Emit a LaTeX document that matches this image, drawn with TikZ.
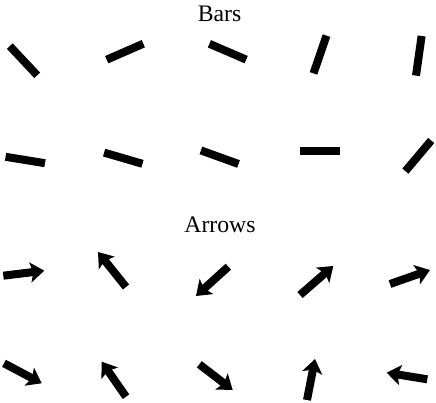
\documentclass[tikz,border=0pt]{standalone}
\usepackage{fontspec}
\setmainfont{Liberation Serif}
\usetikzlibrary{arrows.meta}
\begin{document}
\begin{tikzpicture}[x=1pt,y=-1pt,
  bar/.style={line width=8pt,line cap=butt,black},
  arr/.style={line width=8pt,line cap=butt,black,-{Stealth[length=14pt,width=20pt,inset=3pt]}},
  ttl/.style={anchor=base,inner sep=0pt,font=\fontsize{23.7}{28}\selectfont}]
\useasboundingbox (0,0) rectangle (436,402);
\node[ttl] (tbars) at (219.5,21) {Bars};
\node[ttl] (tarrows) at (220,232) {Arrows};
% bars row 1
\draw[bar] (9.8,46.1) -- (37.2,75.3);
\draw[bar] (106.7,59.7) -- (143.3,43.7);
\draw[bar] (209.4,43.8) -- (246.2,59.6);
\draw[bar] (313.5,73.4) -- (326.5,35.6);
\draw[bar] (416,75.6) -- (421.6,36);
% bars row 2
\draw[bar] (5.6,156.8) -- (45,163.2);
\draw[bar] (104.1,152.6) -- (142.5,163.8);
\draw[bar] (200.9,150.4) -- (238.5,164);
\draw[bar] (300,150.7) -- (340,150.7);
\draw[bar] (405.4,171.1) -- (431.2,140.5);
% arrows row 1
\draw[arr] (3.3,275.7) -- (44.3,270.7);
\draw[arr] (126,287) -- (98,252);
\draw[arr] (228.3,266.7) -- (196,296);
\draw[arr] (300,295) -- (333.3,266);
\draw[arr] (390,284) -- (430,270);
% arrows row 2
\draw[arr] (4,363.3) -- (41.7,383.3);
\draw[arr] (126,396.7) -- (101.7,361.7);
\draw[arr] (199.3,364.3) -- (232.7,390);
\draw[arr] (307,400) -- (315,359);
\draw[arr] (427.3,379.3) -- (386.7,372.7);
\end{tikzpicture}
\end{document}
